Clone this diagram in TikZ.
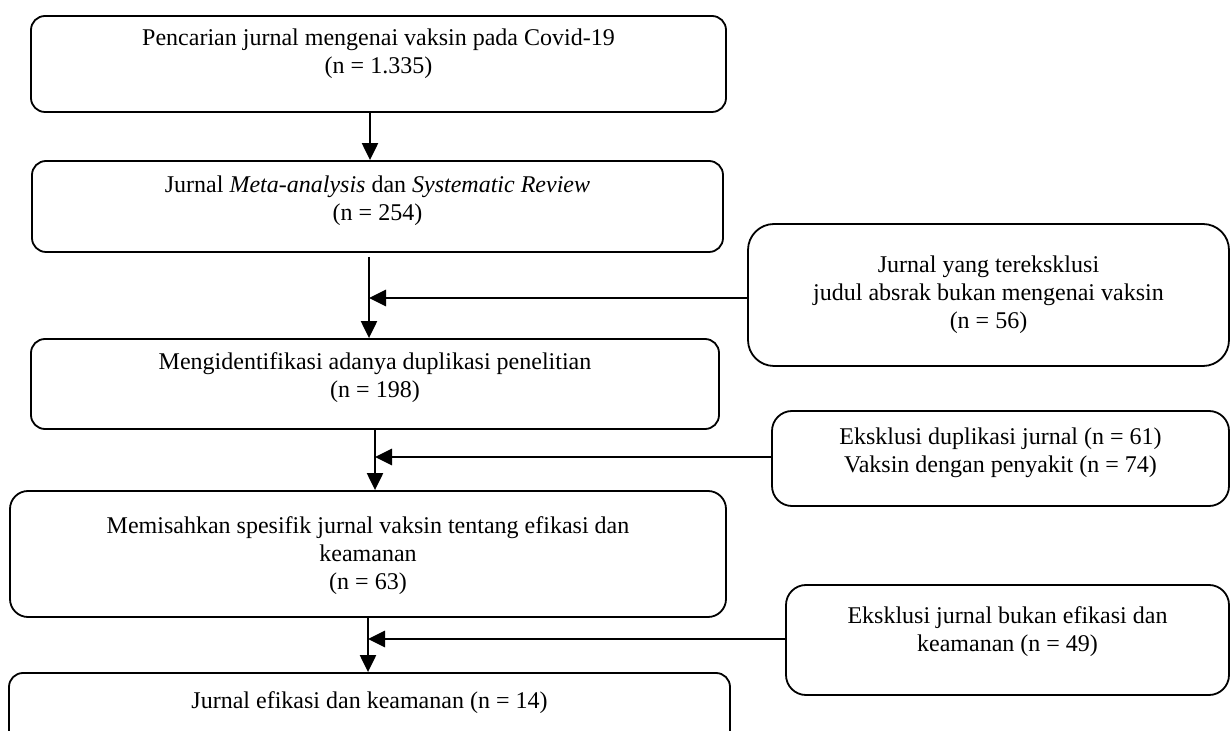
\documentclass[tikz,border=0pt]{standalone}
\usepackage{fontspec}
\setmainfont{Liberation Serif}
\usetikzlibrary{arrows.meta}

\begin{document}
\begin{tikzpicture}[
			x=0.5pt, y=-0.5pt,
			font=\fontsize{12}{14}\selectfont,
			stage/.style={rectangle, rounded corners=7pt, draw=black, line width=0.9pt, align=center, text centered, inner sep=0pt},
			excl/.style={stage, rounded corners=10pt},
			link/.style={line width=1.1pt, arrows=-{Triangle[length=8.5pt,width=8pt]}},
			side/.style={line width=1.4pt, arrows=-{Triangle[length=8.5pt,width=8pt]}},
			]
			
			\useasboundingbox (0,0) rectangle (1231,731);
			\clip (0,0) rectangle (1231,731);
			
			% main stages
			\node[stage, minimum width=347.5pt, minimum height=48pt, text depth=12.6pt]   (m_1) at (378.5,64)  {Pencarian jurnal mengenai vaksin pada Covid-19\\(n = 1.335)};
			\node[stage, minimum width=345.5pt, minimum height=45.5pt, text depth=8.6pt]  (m_2) at (377.5,206.5) {Jurnal \textit{Meta-analysis} dan \textit{Systematic Review}\\(n = 254)};
			\node[stage, minimum width=344pt, minimum height=45pt, text depth=8.6pt]      (m_3) at (375,384)   {Mengidentifikasi adanya duplikasi penelitian\\(n = 198)};
			\node[stage, rounded corners=9pt, minimum width=358pt, minimum height=63pt, text depth=0.6pt] (m_4) at (368,554) {Memisahkan spesifik jurnal vaksin tentang efikasi dan\\keamanan\\(n = 63)};
			\node[stage, minimum width=360.5pt, minimum height=43.5pt, text depth=16.1pt] (m_5) at (369.5,716.5) {Jurnal efikasi dan keamanan (n = 14)};
			
			% exclusions
			\node[excl, rounded corners=13pt, minimum width=240.5pt, minimum height=71pt, text depth=3pt] (x_1) at (988.5,295)   {Jurnal yang tereksklusi\\judul absrak bukan mengenai vaksin\\(n = 56)};
			\node[excl, minimum width=228.5pt, minimum height=47.5pt, text depth=8pt]    (x_2) at (1000.5,458.5) {Eksklusi duplikasi jurnal (n = 61)\\Vaksin dengan penyakit (n = 74)};
			\node[excl, minimum width=221.5pt, minimum height=55pt, text depth=10.6pt]   (x_3) at (1007.5,640)   {Eksklusi jurnal bukan efikasi dan\\keamanan (n = 49)};
			
			\coordinate (j_0) at (370,136);
			\coordinate (j_1) at (369,298);
			\coordinate (j_2) at (375,457);
			\coordinate (j_3) at (368,639);
			
			\draw [link] (m_1.south -| j_0) -- (m_2.north -| j_0);
			\draw [link, shorten <=2pt] (m_2.south -| j_1) -- (m_3.north -| j_1);
			\draw [link] (m_3.south -| j_2) -- (m_4.north -| j_2);
			\draw [link] (m_4.south -| j_3) -- (m_5.north -| j_3);
			\draw [side] (x_1.west |- j_1) -- (j_1);
			\draw [side] (x_2.west |- j_2) -- (j_2);
			\draw [side] (x_3.west |- j_3) -- (j_3);
			
			\end{tikzpicture}
\end{document}
